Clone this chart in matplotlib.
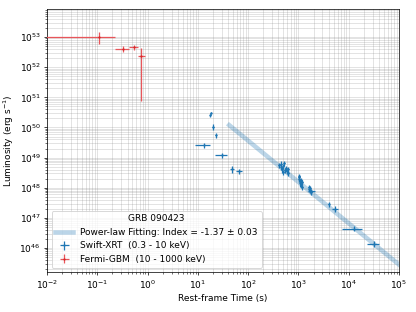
import matplotlib
matplotlib.use("Agg")
import matplotlib.pyplot as plt
import numpy as np

# Fermi-GBM (10 - 1000 keV): bin centre, bin edges, luminosity and its bounds
gbm_t = [0.11, 0.32, 0.54, 0.75]
gbm_t_lo = [0.001, 0.22, 0.43, 0.64]
gbm_t_hi = [0.22, 0.43, 0.64, 0.87]
gbm_L = [1.02e53, 4.1e52, 4.6e52, 2.3e52]
gbm_L_lo = [5.9e52, 3.2e52, 3.7e52, 7.4e50]
gbm_L_hi = [1.47e53, 4.9e52, 5.5e52, 4.3e52]

# Swift-XRT (0.3 - 10 keV)
xrt_t = [17.5, 18.2, 20, 22.9, 13, 30, 47.9, 67,
         417, 447, 457, 479, 501, 525, 537, 562, 589, 617, 631, 501,
         1023, 1047, 1072, 1096, 1122, 1148, 1175, 1202, 1047,
         1622, 1660, 1738, 1820, 1698, 1778,
         3980, 5330, 13000, 31600]
xrt_terr = [0.4, 0.4, 0.5, 0.6, 4.3, 8, 4, 9,
            15, 15, 15, 18, 18, 20, 20, 20, 22, 22, 25, 20,
            35, 35, 35, 40, 40, 40, 45, 45, 40,
            60, 60, 60, 280, 60, 60,
            150, 700, 5500, 8000]
xrt_L = [2.6e50, 3.0e50, 1.05e50, 5.6e49, 2.6e49, 1.2e49, 4.1e48, 3.5e48,
         5.6e48, 6.3e48, 4.8e48, 4.1e48, 5.2e48, 6.5e48, 3.8e48, 4.4e48, 3.5e48, 4.1e48, 3.0e48, 3.3e48,
         2.2e48, 1.9e48, 1.65e48, 1.4e48, 1.8e48, 1.2e48, 1.5e48, 1.05e48, 2.4e48,
         1.05e48, 8.9e47, 8.3e47, 7.6e47, 9.6e47, 7.1e47,
         2.8e47, 2.0e47, 4.4e46, 1.4e46]
xrt_Lerr = [0.3e50, 0.3e50, 0.25e50, 1.2e49, 0.5e49, 0.25e49, 1.0e48, 0.6e48,
            1.2e48, 1.3e48, 1.0e48, 0.9e48, 1.1e48, 1.3e48, 0.8e48, 0.9e48, 0.7e48, 0.9e48, 0.6e48, 0.7e48,
            0.4e48, 0.4e48, 0.35e48, 0.3e48, 0.35e48, 0.25e48, 0.3e48, 0.2e48, 0.5e48,
            0.2e48, 1.8e47, 1.6e47, 1.5e47, 1.9e47, 1.4e47,
            0.5e47, 0.4e47, 0.8e46, 0.3e46]

# power-law fit
pl_index = -1.37
pl_t0, pl_L0 = 42.0, 1.2e50
pl_range = [42.0, 1e5]

fig, ax = plt.subplots(figsize=(6.4, 4.8), dpi=65)
fig.subplots_adjust(left=0.113, right=0.959, top=0.971, bottom=0.128)

t_fit = np.logspace(np.log10(pl_range[0]), np.log10(pl_range[1]), 100)
ax.plot(t_fit, pl_L0 * (t_fit / pl_t0) ** pl_index, color="C0", lw=5, alpha=0.3,
        label="Power-law Fitting: Index = -1.37 ± 0.03")

ax.errorbar(xrt_t, xrt_L, xerr=xrt_terr, yerr=xrt_Lerr, fmt=".", ms=3,
            color="#1f77b4", ecolor="#1f77b4", elinewidth=1.4, zorder=3,
            label="Swift-XRT  (0.3 - 10 keV)")

gbm_t = np.array(gbm_t)
gbm_L = np.array(gbm_L)
ax.errorbar(gbm_t, gbm_L,
            xerr=[gbm_t - np.array(gbm_t_lo), np.array(gbm_t_hi) - gbm_t],
            yerr=[gbm_L - np.array(gbm_L_lo), np.array(gbm_L_hi) - gbm_L],
            fmt=".", ms=3, color="#d62728", ecolor="#e8555a",
            elinewidth=1.4, zorder=3, label="Fermi-GBM  (10 - 1000 keV)")

ax.set_xscale("log")
ax.set_yscale("log")
ax.set_xlim(1e-2, 1e5)
ax.set_ylim(1.6e45, 8.5e53)
ax.set_yticks([10.0 ** k for k in range(46, 54)])
ax.grid(True, which="both", color="grey", alpha=0.3)
ax.set_xlabel("Rest-frame Time (s)")
ax.set_ylabel("Luminosity (erg s$^{-1}$)")
ax.legend(loc="lower left", title="GRB 090423")

fig.savefig("out.png", dpi=65)
